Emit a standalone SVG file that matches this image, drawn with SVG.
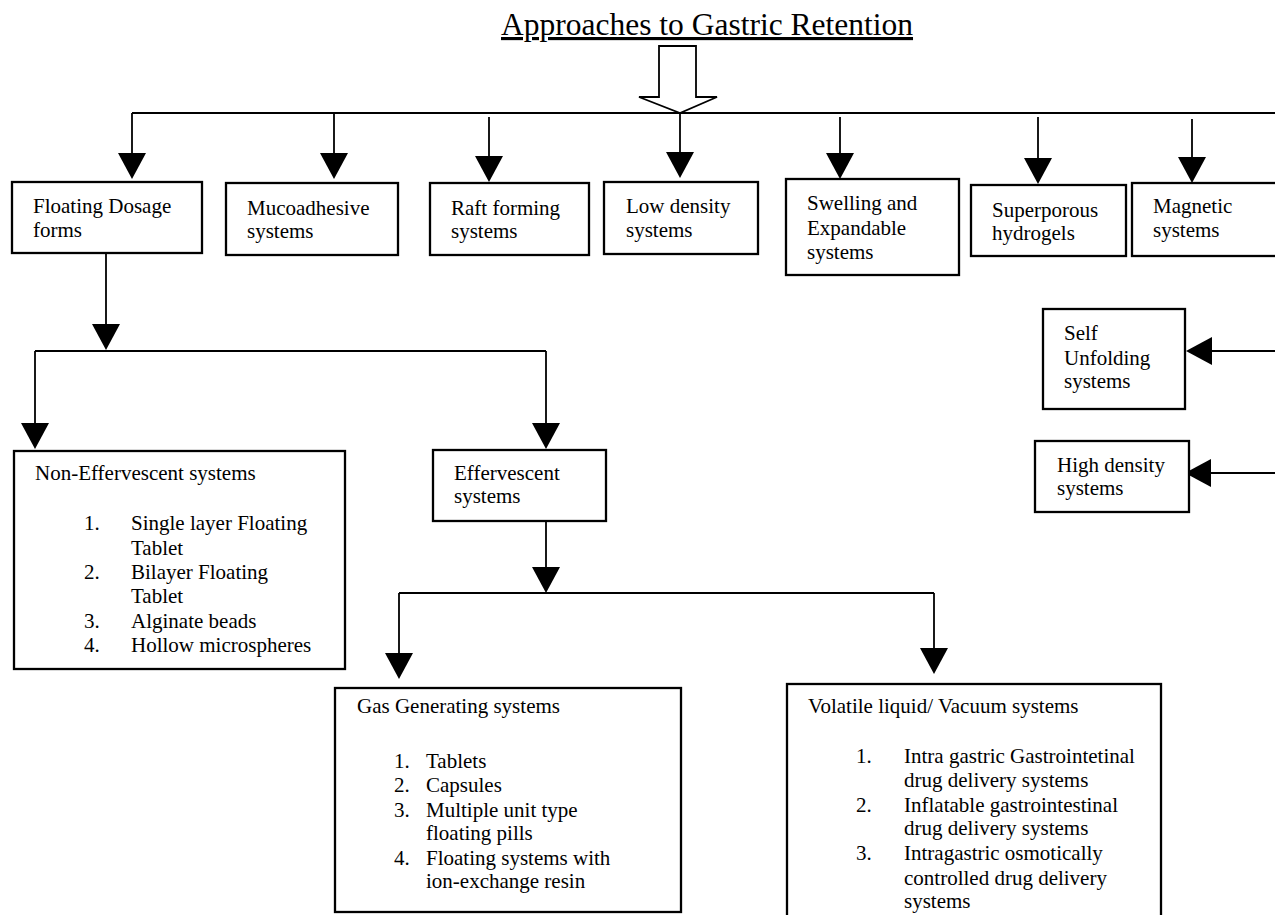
<svg xmlns="http://www.w3.org/2000/svg" width="1275" height="915" viewBox="0 0 1275 915">
<style>
.box{fill:#fff;stroke:#000;stroke-width:2.3}
.ln{fill:none;stroke:#000;stroke-width:1.8}
.ar{fill:none;stroke:#000;stroke-width:1.8;marker-end:url(#ah)}
text{font-family:"Liberation Serif","Times New Roman",serif;font-size:21px;fill:#000}
.title{font-size:31.5px;text-decoration:underline}
</style>
<defs>
<marker id="ah" markerUnits="userSpaceOnUse" markerWidth="28" markerHeight="28" viewBox="0 0 26 28" refX="20" refY="14" orient="auto">
<path d="M0,0 L26,14 L0,28 Z" fill="#000"/>
</marker>
</defs>
<rect width="1275" height="915" fill="#fff"/>
<text class="title" x="501" y="35">Approaches to Gastric Retention</text>
<g id="connectors">
<polygon points="659,46 696,46 696,97 717,97 680,113 639,97 659,97" fill="#fff" stroke="#000" stroke-width="1.8"/>
<path class="ln" d="M132,113 H1275"/>
<path class="ar" d="M132,113 V173"/>
<path class="ar" d="M334,113 V173"/>
<path class="ar" d="M489,117 V176"/>
<path class="ar" d="M680,113 V172"/>
<path class="ar" d="M840,117 V173"/>
<path class="ar" d="M1038,117 V178"/>
<path class="ar" d="M1192,119 V177"/>
<path class="ar" d="M106,253 V344"/>
<path class="ln" d="M35,351 H546"/>
<path class="ar" d="M35,351 V443"/>
<path class="ar" d="M546,351 V443"/>
<path class="ar" d="M546,521 V587"/>
<path class="ln" d="M399,593 H934"/>
<path class="ar" d="M399,593 V673"/>
<path class="ar" d="M934,593 V668"/>
<path class="ar" d="M1275,351 H1192"/>
<path class="ar" d="M1275,473 H1191"/>
</g>
<g id="floating">
<rect class="box" x="12" y="182" width="190" height="71"/>
<text x="33" y="213">Floating Dosage</text>
<text x="33" y="237">forms</text>
</g>
<g id="mucoadhesive">
<rect class="box" x="226" y="183" width="172" height="72"/>
<text x="247" y="215">Mucoadhesive</text>
<text x="247" y="238">systems</text>
</g>
<g id="raft">
<rect class="box" x="430" y="183" width="159" height="72"/>
<text x="451" y="215">Raft forming</text>
<text x="451" y="238">systems</text>
</g>
<g id="lowdensity">
<rect class="box" x="604" y="182" width="154" height="72"/>
<text x="626" y="213">Low density</text>
<text x="626" y="237">systems</text>
</g>
<g id="swelling">
<rect class="box" x="786" y="179" width="173" height="96"/>
<text x="807" y="210">Swelling and</text>
<text x="807" y="235">Expandable</text>
<text x="807" y="259">systems</text>
</g>
<g id="superporous">
<rect class="box" x="971" y="185" width="155" height="71"/>
<text x="992" y="217">Superporous</text>
<text x="992" y="240">hydrogels</text>
</g>
<g id="magnetic">
<rect class="box" x="1132" y="183" width="160" height="73"/>
<text x="1153" y="213">Magnetic</text>
<text x="1153" y="237">systems</text>
</g>
<g id="selfunfolding">
<rect class="box" x="1043" y="309" width="142" height="100"/>
<text x="1064" y="340">Self</text>
<text x="1064" y="365">Unfolding</text>
<text x="1064" y="388">systems</text>
</g>
<g id="highdensity">
<rect class="box" x="1035" y="441" width="154" height="71"/>
<text x="1057" y="472">High density</text>
<text x="1057" y="495">systems</text>
</g>
<g id="noneffervescent">
<rect class="box" x="14" y="451" width="331" height="218"/>
<text x="35" y="480">Non-Effervescent systems</text>
<text x="84" y="530">1.</text><text x="131" y="530">Single layer Floating</text>
<text x="131" y="555">Tablet</text>
<text x="84" y="579">2.</text><text x="131" y="579">Bilayer Floating</text>
<text x="131" y="603">Tablet</text>
<text x="84" y="628">3.</text><text x="131" y="628">Alginate beads</text>
<text x="84" y="652">4.</text><text x="131" y="652">Hollow microspheres</text>
</g>
<g id="effervescent">
<rect class="box" x="433" y="450" width="173" height="71"/>
<text x="454" y="480">Effervescent</text>
<text x="454" y="503">systems</text>
</g>
<g id="gasgenerating">
<rect class="box" x="335" y="688" width="346" height="224"/>
<text x="357" y="713">Gas Generating systems</text>
<text x="394" y="768">1.</text><text x="426" y="768">Tablets</text>
<text x="394" y="792">2.</text><text x="426" y="792">Capsules</text>
<text x="394" y="817">3.</text><text x="426" y="817">Multiple unit type</text>
<text x="426" y="840">floating pills</text>
<text x="394" y="865">4.</text><text x="426" y="865">Floating systems with</text>
<text x="426" y="888">ion-exchange resin</text>
</g>
<g id="volatile">
<rect class="box" x="787" y="684" width="374" height="250"/>
<text x="808" y="713">Volatile liquid/ Vacuum systems</text>
<text x="856" y="763">1.</text><text x="904" y="763">Intra gastric Gastrointetinal</text>
<text x="904" y="787">drug delivery systems</text>
<text x="856" y="812">2.</text><text x="904" y="812">Inflatable gastrointestinal</text>
<text x="904" y="835">drug delivery systems</text>
<text x="856" y="860">3.</text><text x="904" y="860">Intragastric osmotically</text>
<text x="904" y="885">controlled drug delivery</text>
<text x="904" y="908">systems</text>
</g>
</svg>
